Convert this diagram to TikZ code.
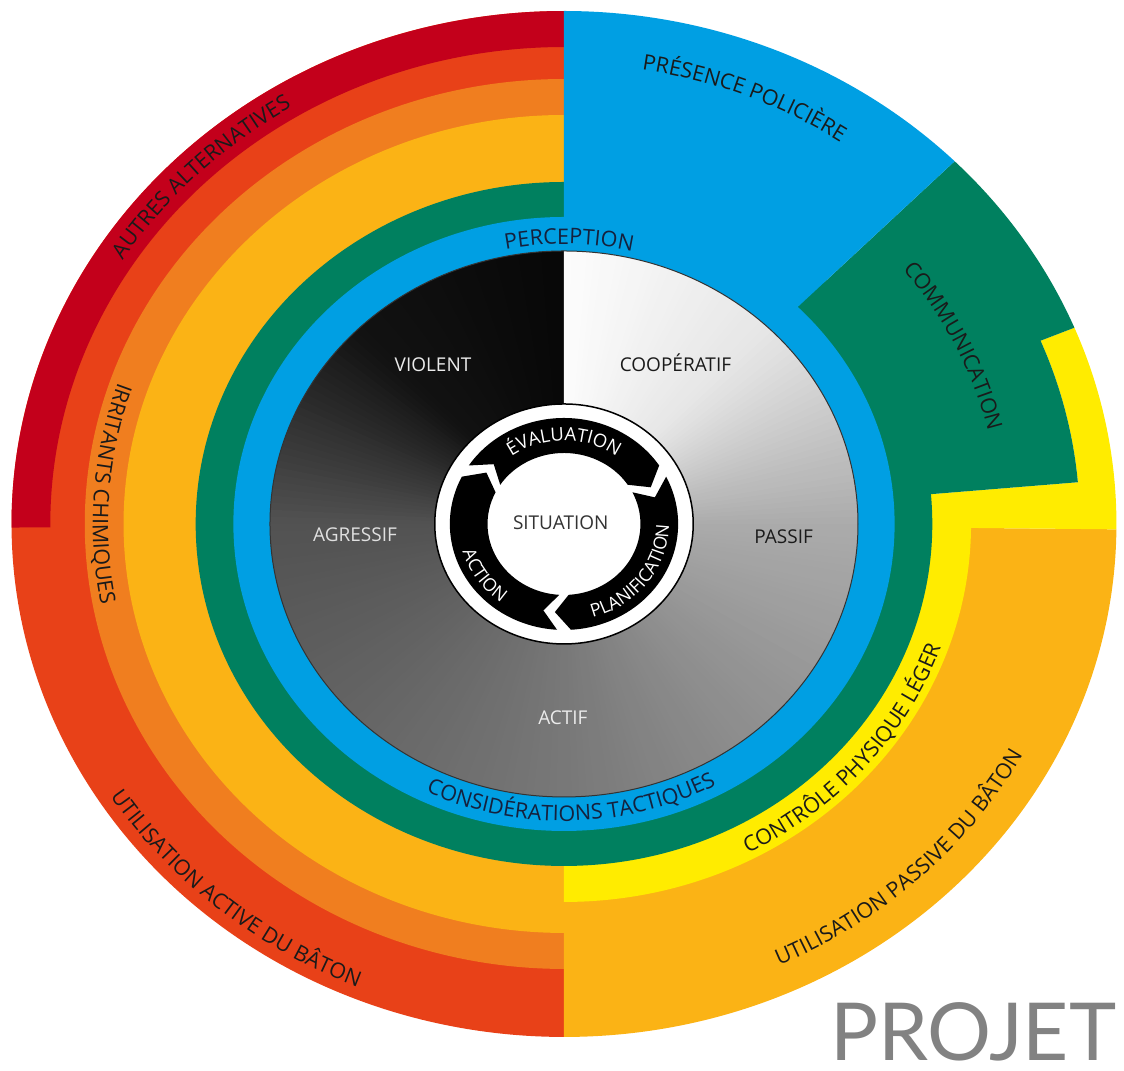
\documentclass[tikz,border=0pt]{standalone}
\usepackage{fontspec}
\setmainfont{Open Sans}
\newfontfamily\brandfont{Lato}
\usetikzlibrary{decorations.text}

\definecolor{garnet}{HTML}{C3001B}
\definecolor{vermilion}{HTML}{E84118}
\definecolor{tangerine}{HTML}{F07E1F}
\definecolor{amber}{HTML}{FBB315}
\definecolor{lemon}{HTML}{FFEC00}
\definecolor{pine}{HTML}{00805F}
\definecolor{sky}{HTML}{009FE3}
\definecolor{ink}{HTML}{1A1A1A}
\definecolor{navy}{HTML}{15213D}
\definecolor{slate}{HTML}{828282}

\newcommand{\ringfont}{\fontsize{21.5}{24}\selectfont}
\newcommand{\hubfont}{\fontsize{18.5}{21}\selectfont}

% label bent along an arc (start angle, end angle, radius, format, text)
\newcommand{\arclabel}[5]{%
  \path[decorate, decoration={text along path, text align=center,
      text={|#4|#5}}]
    (#1:#3) arc[start angle=#1, end angle=#2, radius=#3];}

% one arrow of the hub cycle, running clockwise from #1 to #2
\newcommand{\hubarrow}[2]{%
  \fill[black] (#1:106) arc[start angle=#1, end angle=#2, radius=106]
    -- ({#2-9}:88.5) -- (#2:71) arc[start angle=#2, end angle=#1, radius=71]
    -- ({#1-9}:88.5) -- cycle;}

\begin{document}
\begin{tikzpicture}[x=1.077pt, y=1pt,
    every node/.style={inner sep=0pt},
    state/.style={font=\fontsize{19}{22}\selectfont, text height=13.5pt, text depth=0pt}]

  \useasboundingbox (-523.7,-547) rectangle (520,524);

  % Left half: escalation bands
  \fill[vermilion] (0,0) -- (89.8:513) arc[start angle=89.8, end angle=270.2, radius=513] -- cycle;
  \fill[garnet] (89.8:513) arc[start angle=89.8, end angle=180.4, radius=513]
    -- (180.4:477) arc[start angle=180.4, end angle=89.8, radius=477] -- cycle;
  \fill[tangerine] (0,0) -- (89.8:445) arc[start angle=89.8, end angle=270.2, radius=445] -- cycle;
  \fill[amber] (0,0) -- (89.8:409) arc[start angle=89.8, end angle=270.2, radius=409] -- cycle;

  % Right half: stepped bands
  \fill[amber] (0,0) -- (-90:513) arc[start angle=-90, end angle=-0.6, radius=513] -- cycle;
  \fill[lemon] (0,0) -- (-90:378) arc[start angle=-90, end angle=-0.6, radius=378]
    -- (-0.6:513) arc[start angle=-0.6, end angle=22.5, radius=513]
    -- (22.5:479) arc[start angle=22.5, end angle=5, radius=479] -- cycle;
  \fill[pine] (0,0) circle[radius=342];
  \fill[pine] (0,0) -- (5:479) arc[start angle=5, end angle=22.5, radius=479]
    -- (22.5:513) arc[start angle=22.5, end angle=45, radius=513] -- cycle;
  \fill[sky] (0,0) circle[radius=307];
  \fill[sky] (0,0) -- (45:513) arc[start angle=45, end angle=90, radius=513] -- cycle;

  % Behaviour disc, shaded round from black (top left) to white (top right)
  \foreach \s/\e/\ps/\pe in {90/135/97/93, 135/180/93/68, 180/270/68/53,
                             270/360/53/33, 360/405/33/10, 405/450/10/1}{
    \pgfmathtruncatemacro{\n}{(\e-\s)/1.5}
    \foreach \i in {1,...,\n}{
      \pgfmathsetmacro{\a}{\s+(\i-1)*1.5}
      \pgfmathsetmacro{\b}{min(\a+2.2,450)}
      \pgfmathsetmacro{\p}{\ps+(\pe-\ps)*(\i-0.5)/\n}
      \fill[black!\p] (0,0) -- (\a:273) arc[start angle=\a, end angle=\b, radius=273] -- cycle;
    }
  }
  \draw[black!80, line width=1pt] (0,0) circle[radius=273];

  % Hub: assessment cycle
  \filldraw[fill=white, draw=black, line width=1.5pt] (0,0) circle[radius=120];
  \hubarrow{146.5}{33.5}
  \hubarrow{26.5}{-86.5}
  \hubarrow{-93.5}{-206.5}

  % Labels on the bands
  \arclabel{124}{54}{280}{\ringfont\color{navy}}{PERCEPTION}
  \arclabel{-138.5}{-38.5}{297}{\ringfont\color{navy}}{CONSIDÉRATIONS TACTIQUES}
  \arclabel{175}{95}{487.5}{\ringfont\color{ink}}{AUTRES ALTERNATIVES}
  \arclabel{136}{216}{437.5}{\ringfont\color{ink}}{IRRITANTS CHIMIQUES}
  \arclabel{189.5}{269.5}{501.5}{\ringfont\color{ink}}{UTILISATION ACTIVE DU BÂTON}
  \arclabel{108}{28}{460}{\ringfont\color{ink}}{PRÉSENCE POLICIÈRE}
  \arclabel{65}{-14}{404.5}{\ringfont\color{ink}}{COMMUNICATION}
  \arclabel{-90}{10}{371}{\ringfont\color{ink}}{CONTRÔLE PHYSIQUE LÉGER}
  \arclabel{-96}{4}{484.5}{\ringfont\color{ink}}{UTILISATION PASSIVE DU BÂTON}

  % Labels on the hub arrows
  \arclabel{160}{20}{83.5}{\hubfont\color{white}}{ÉVALUATION}
  \arclabel{-124}{52}{97.5}{\fontsize{18}{20}\selectfont\color{white}}{PLANIFICATION}
  \arclabel{153.5}{273.5}{98}{\fontsize{18}{20}\selectfont\color{white}}{ACTION}

  % Nodes
  \node[state, text=white!92!black] (violent) at (-121.6,159) {VIOLENT};
  \node[state, text=ink] (coop) at (103.5,159) {COOPÉRATIF};
  \node[state, text=white!88!black] (agressif) at (-194,-11) {AGRESSIF};
  \node[state, text=ink] (passif) at (204,-13) {PASSIF};
  \node[state, text=white!92!black] (actif) at (-1,-194) {ACTIF};
  \node[state, text=black!80] (situation) at (-3,1) {SITUATION};
  \node[anchor=base west, text depth=0pt, text=slate,
        font=\brandfont\fontsize{80}{90}\selectfont] (projet) at (247,-537) {PROJET};

\end{tikzpicture}
\end{document}
